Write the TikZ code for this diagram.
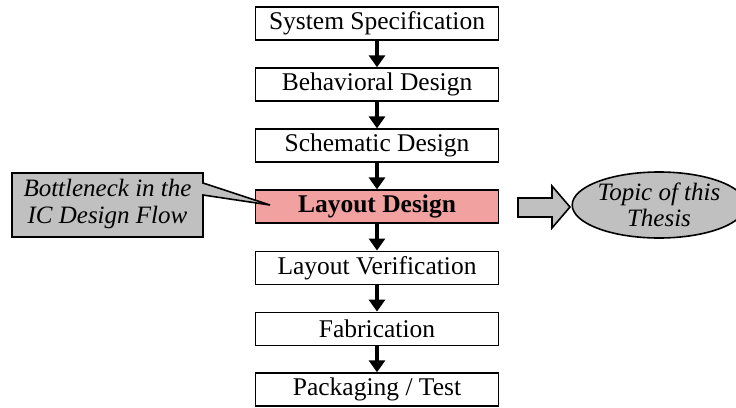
\documentclass[tikz,border=0pt]{standalone}
\usepackage{fontspec}
\setmainfont{Liberation Serif}
\usetikzlibrary{arrows.meta,shapes.geometric,calc}
\definecolor{pinkbox}{HTML}{F2A1A1}
\definecolor{graybox}{HTML}{C0C0C0}
\tikzset{
  stepbox/.style={draw=black, line width=1.6pt, fill=white, minimum width=243pt, minimum height=33pt, inner sep=0pt, font=\fontsize{25.5}{25}\selectfont},
  flowarrow/.style={line width=3.2pt, -{Triangle[width=16pt,length=12pt]}},
  grayitem/.style={draw=black, line width=1.6pt, fill=graybox},
  notetext/.style={font=\fontsize{25}{25}\selectfont\itshape, align=center, inner sep=0pt},
}
\begin{document}
\begin{tikzpicture}[x=1pt,y=-1pt]
\useasboundingbox (0,0) rectangle (736,407);
\node[stepbox] (s1) at (377,23.5) {System Specification};
\node[stepbox] (s2) at (377,84.6) {Behavioral Design};
\node[stepbox] (s3) at (377,145.7) {Schematic Design};
\node[stepbox, fill=pinkbox, font=\fontsize{25.5}{25}\selectfont\bfseries] (s4) at (377,206.7) {Layout Design};
\node[stepbox] (s5) at (377,267.8) {Layout Verification};
\node[stepbox] (s6) at (377,328.9) {Fabrication};
\node[stepbox] (s7) at (377,389.6) {Packaging / Test};
\foreach \a/\b in {s1/s2,s2/s3,s3/s4,s4/s5,s5/s6,s6/s7}
  \draw[flowarrow] (\a.south) -- (\b.north);
% callout
\coordinate (tip) at (270,205);
\draw[grayitem, line join=miter] (12,173) -- (203,173) -- (203,183) -- (tip) -- (203,195) -- (203,237) -- (12,237) -- cycle;
\node[notetext] (note) at (107.5,204) {Bottleneck in the\\[1.5pt]IC Design Flow};
% block arrow
\draw[grayitem, line join=miter] (518,198) coordinate (ba) -- (552,198) -- (552,186) -- (570,207) -- (552,228) -- (552,217) -- (518,217) -- cycle;
% ellipse
\node[grayitem, ellipse, minimum width=148pt, minimum height=66pt, inner sep=0pt, notetext] (topic) at (659,205) {Topic of this\\[1pt]Thesis};
\end{tikzpicture}
\end{document}
